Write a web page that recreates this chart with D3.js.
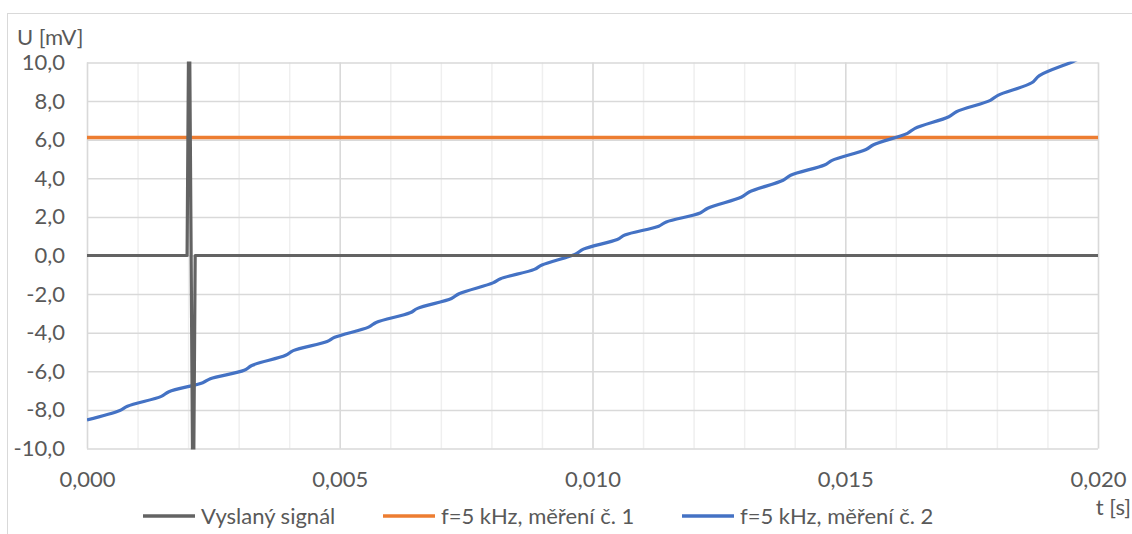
<!DOCTYPE html>
<html>
<head>
<meta charset="utf-8">
<script src="https://cdn.jsdelivr.net/npm/d3@7/dist/d3.min.js"></script>
<style>
  html, body { margin: 0; padding: 0; background: #fff; }
  svg { display: block; }
  text { font-family: Lato, "Noto Sans", sans-serif; fill: #595959; }
</style>
</head>
<body>
<svg id="chart" width="1132" height="534"></svg>
<script>
// ---- data ----
const seriesNames = ["Vyslaný signál", "f=5 kHz, měření č. 1", "f=5 kHz, měření č. 2"];
const seriesColors = ["#636363", "#ED7D31", "#4472C4"];

// Vyslaný signál (transmitted pulse)
const signalT = [0, 0.00198, 0.00202, 0.00210, 0.00214, 0.020];
const signalU = [0, 0, 15, -15, 0, 0];

// f=5 kHz, měření č. 1
const meas1T = [0, 0.020];
const meas1U = [6.12, 6.12];

// f=5 kHz, měření č. 2 (rising ramp with small ripple)
const meas2T = [0,
  0.00065, 0.00080, 0.00147, 0.00162, 0.00229, 0.00244, 0.00311, 0.00326,
  0.00393, 0.00408, 0.00475, 0.00490, 0.00557, 0.00572, 0.00639, 0.00654,
  0.00721, 0.00736, 0.00803, 0.00818, 0.00885, 0.00900, 0.00967, 0.00982,
  0.01049, 0.01064, 0.01131, 0.01146, 0.01213, 0.01228, 0.01295, 0.01310,
  0.01377, 0.01392, 0.01459, 0.01474, 0.01541, 0.01556, 0.01623, 0.01638,
  0.01705, 0.01720, 0.01787, 0.01802, 0.01869, 0.01884, 0.01951, 0.01966,
  0.020];
const meas2U = [-8.52,
  -8.03, -7.81, -7.30, -7.06, -6.59, -6.38, -5.95, -5.70,
  -5.17, -4.93, -4.46, -4.24, -3.71, -3.47, -2.97, -2.74,
  -2.23, -1.98, -1.42, -1.20, -0.72, -0.49, 0.08, 0.33,
  0.83, 1.06, 1.52, 1.74, 2.20, 2.45, 3.03, 3.29,
  3.90, 4.16, 4.69, 4.93, 5.49, 5.74, 6.33, 6.59,
  7.19, 7.45, 8.04, 8.30, 8.95, 9.32, 10.05, 10.25,
  10.60];

const yTicks = [-10, -8, -6, -4, -2, 0, 2, 4, 6, 8, 10];
const xTicks = [0, 0.005, 0.010, 0.015, 0.020];
const xMinorTicks = d3.range(0, 21).map(i => i / 1000);
const yAxisTitle = "U [mV]";
const xAxisTitle = "t [s]";

// ---- layout ----
const svg = d3.select("#chart");
const pLeft = 87, pRight = 1098, pTop = 62.5, pBottom = 448.5;
const FS = 22;

const x = d3.scaleLinear().domain([0, 0.02]).range([pLeft, pRight]);
const y = d3.scaleLinear().domain([-10, 10]).range([pBottom, pTop]);

const loc = d3.formatLocale({decimal: ",", thousands: " ", grouping: [3], currency: ["", ""], minus: "-"});
const fy = loc.format(".1f");
const fx = loc.format(".3f");

// chart border
svg.append("rect").attr("x", 7.5).attr("y", 13.5).attr("width", 1140).attr("height", 540)
  .attr("fill", "none").attr("stroke", "#D9D9D9").attr("stroke-width", 1);

// minor vertical gridlines
svg.append("g")
  .attr("transform", `translate(0,${pBottom})`)
  .call(d3.axisBottom(x).tickValues(xMinorTicks).tickSize(-(pBottom - pTop)).tickFormat(""))
  .call(g => g.select(".domain").remove())
  .call(g => g.selectAll("line").attr("stroke", "#EFEFEF").attr("stroke-width", 1.5));

// major vertical gridlines
svg.append("g")
  .attr("transform", `translate(0,${pBottom})`)
  .call(d3.axisBottom(x).tickValues(xTicks).tickSize(-(pBottom - pTop)).tickFormat(""))
  .call(g => g.select(".domain").remove())
  .call(g => g.selectAll("line").attr("stroke", "#D9D9D9").attr("stroke-width", 1.5));

// horizontal gridlines
svg.append("g")
  .attr("transform", `translate(${pLeft},0)`)
  .call(d3.axisLeft(y).tickValues(yTicks).tickSize(-(pRight - pLeft)).tickFormat(""))
  .call(g => g.select(".domain").remove())
  .call(g => g.selectAll("line").attr("stroke", "#D9D9D9").attr("stroke-width", 1.5));

// y tick labels
svg.append("g")
  .attr("transform", `translate(${pLeft},0)`)
  .call(d3.axisLeft(y).tickValues(yTicks).tickSize(0).tickPadding(22).tickFormat(fy))
  .call(g => g.select(".domain").remove())
  .call(g => g.selectAll("text").attr("font-size", FS).attr("fill", "#595959")
      .style("font-family", "Lato, 'Noto Sans', sans-serif"));

// x tick labels
svg.append("g")
  .attr("transform", `translate(0,${pBottom})`)
  .call(d3.axisBottom(x).tickValues(xTicks).tickSize(0).tickPadding(23).tickFormat(fx))
  .call(g => g.select(".domain").remove())
  .call(g => g.selectAll("text").attr("font-size", FS).attr("fill", "#595959")
      .style("font-family", "Lato, 'Noto Sans', sans-serif"));

// clip
svg.append("clipPath").attr("id", "plotclip")
  .append("rect").attr("x", pLeft).attr("y", pTop - 1).attr("width", pRight - pLeft).attr("height", pBottom - pTop + 2);

const plot = svg.append("g").attr("clip-path", "url(#plotclip)");

const s0 = signalT.map((t, i) => [t, signalU[i]]);
const s1 = meas1T.map((t, i) => [t, meas1U[i]]);
const s2 = meas2T.map((t, i) => [t, meas2U[i]]);

const straight = d3.line().x(d => x(d[0])).y(d => y(d[1]));
const smooth = d3.line().x(d => x(d[0])).y(d => y(d[1])).curve(d3.curveCatmullRom.alpha(0.5));

plot.append("path").datum(s1).attr("d", straight).attr("fill", "none")
  .attr("stroke", seriesColors[1]).attr("stroke-width", 3.5).attr("stroke-linejoin", "round");
plot.append("path").datum(s2).attr("d", smooth).attr("fill", "none")
  .attr("stroke", seriesColors[2]).attr("stroke-width", 3.2).attr("stroke-linejoin", "round");
plot.append("path").datum(s0).attr("d", straight).attr("fill", "none")
  .attr("stroke", seriesColors[0]).attr("stroke-width", 3.2).attr("stroke-linejoin", "round");

// axis titles
svg.append("text").attr("x", 17).attr("y", 45).attr("font-size", FS).text(yAxisTitle);
svg.append("text").attr("x", 1131).attr("y", 515).attr("text-anchor", "end").attr("font-size", FS).text(xAxisTitle);

// legend
const legendX = [143, 383, 682];
const leg = svg.append("g");
seriesNames.forEach((name, i) => {
  const g = leg.append("g").attr("transform", `translate(${legendX[i]},516)`);
  g.append("line").attr("x1", 0).attr("x2", 52).attr("y1", 0).attr("y2", 0)
    .attr("stroke", seriesColors[i]).attr("stroke-width", 3.5);
  g.append("text").attr("x", 58).attr("y", 8).attr("font-size", FS).text(name);
});
</script>
</body>
</html>
